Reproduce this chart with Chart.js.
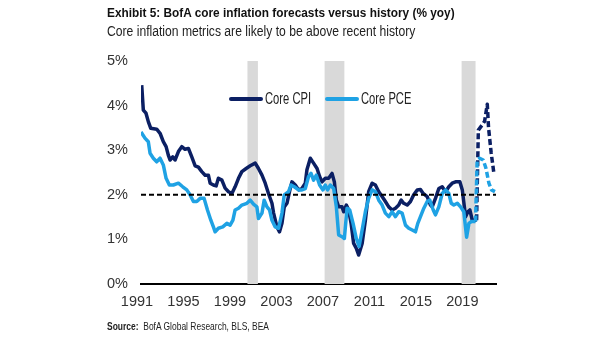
<!DOCTYPE html>
<html>
<head>
<meta charset="utf-8">
<script src="https://cdn.jsdelivr.net/npm/chart.js@4.4.1/dist/chart.umd.min.js"></script>
<style>
  body { margin: 0; background: #fff; }
  #wrap { position: relative; width: 605px; height: 341px; overflow: hidden;
          font-family: "Liberation Sans", Arial, sans-serif; color: #222; }
  #chart { position: absolute; left: 0; top: 0; }
  .txt { position: absolute; white-space: nowrap; transform-origin: 0 0; }
  #title { left: 107px; top: 5px; font-size: 13.5px; font-weight: bold; color: #111; transform: scaleX(0.877); }
  #subtitle { left: 107px; top: 23px; font-size: 14px; color: #222; transform: scaleX(0.867); }
  #source { left: 107px; top: 320px; font-size: 11px; color: #222; transform: scaleX(0.77); }
  .swatch { position: absolute; width: 34px; height: 4px; border-radius: 2px; }
  .ltxt { font-size: 16px; color: #222; transform: scaleX(0.70); }
</style>
</head>
<body>
<div id="wrap">
  <canvas id="chart" width="605" height="341"></canvas>
  <div class="txt" id="title">Exhibit 5: BofA core inflation forecasts versus history (% yoy)</div>
  <div class="txt" id="subtitle">Core inflation metrics are likely to be above recent history</div>
  <div id="legend"></div>
  <div class="txt" id="source"><b>Source:</b>&nbsp; BofA Global Research, BLS, BEA</div>
</div>
<script>
// Core CPI, % yoy (history)
const cpiYears = [1991.06, 1991.20, 1991.43, 1991.63, 1991.84, 1992.35, 1992.64, 1992.92, 1993.16, 1993.35,
  1993.50, 1993.73, 1993.93, 1994.22, 1994.51, 1994.79, 1995.08, 1995.37, 1995.66, 1995.94,
  1996.23, 1996.52, 1996.80, 1996.95, 1997.23, 1997.47, 1997.66, 1997.96, 1998.24, 1998.53,
  1998.82, 1999.10, 1999.39, 1999.68, 2000.05, 2000.40, 2000.83, 2001.11, 2001.41, 2001.69,
  2001.97, 2002.27, 2002.41, 2002.70, 2002.92, 2003.13, 2003.33, 2003.56, 2003.78, 2003.99,
  2004.28, 2004.56, 2004.85, 2005.14, 2005.28, 2005.57, 2005.85, 2006.15, 2006.37, 2006.58,
  2006.86, 2007.15, 2007.44, 2007.64, 2007.81, 2008.01, 2008.30, 2008.44, 2008.67, 2008.87,
  2009.08, 2009.30, 2009.53, 2009.73, 2010.03, 2010.31, 2010.59, 2010.89, 2011.17, 2011.46,
  2011.75, 2012.03, 2012.32, 2012.61, 2012.90, 2013.18, 2013.39, 2013.61, 2013.91, 2014.19,
  2014.47, 2014.77, 2015.05, 2015.28, 2015.63, 2015.91, 2016.06, 2016.34, 2016.63, 2016.92,
  2017.21, 2017.49, 2017.78, 2018.07, 2018.44, 2018.65, 2018.93, 2019.13, 2019.30, 2019.51,
  2019.71, 2019.88];
const cpiValues = [4.46, 3.90, 3.83, 3.64, 3.49, 3.47, 3.38, 3.19, 3.08, 2.89,
  2.78, 2.85, 2.78, 2.97, 3.08, 3.02, 3.04, 2.85, 2.65, 2.62,
  2.52, 2.44, 2.44, 2.26, 2.22, 2.20, 2.37, 2.33, 2.15, 2.07,
  2.03, 2.18, 2.37, 2.52, 2.59, 2.65, 2.71, 2.59, 2.44, 2.26,
  2.03, 1.81, 1.59, 1.28, 1.17, 1.36, 1.73, 1.81, 2.07, 2.29,
  2.22, 2.11, 2.14, 2.26, 2.56, 2.82, 2.71, 2.59, 2.41, 2.29,
  2.37, 2.37, 2.48, 2.29, 1.88, 1.73, 1.73, 1.62, 1.77, 1.66,
  1.36, 0.91, 0.80, 0.65, 0.91, 1.43, 2.07, 2.26, 2.22, 2.07,
  1.96, 1.85, 1.73, 1.66, 1.70, 1.77, 1.88, 1.81, 1.77, 1.85,
  2.00, 2.11, 2.12, 2.03, 1.96, 1.77, 1.73, 1.92, 2.14, 2.18,
  2.07, 2.18, 2.26, 2.29, 2.29, 2.11, 1.51, 1.62, 1.66, 1.43,
  1.43, 1.43];

// Core CPI, BofA forecast
const cpiFcstYears = [2019.88, 2020.03, 2020.37, 2020.57, 2020.80, 2020.91, 2021.13, 2021.37];
const cpiFcstValues = [1.43, 3.45, 3.57, 3.65, 4.03, 3.50, 2.95, 2.48];

// Core PCE, % yoy (history)
const pceYears = [1991.00, 1991.34, 1991.63, 1991.78, 1992.06, 1992.35, 1992.64, 1992.92, 1993.16, 1993.44,
  1993.78, 1994.22, 1994.59, 1994.94, 1995.22, 1995.51, 1995.80, 1996.09, 1996.43, 1996.72,
  1997.01, 1997.23, 1997.38, 1997.66, 1998.04, 1998.39, 1998.67, 1998.91, 1999.10, 1999.39,
  1999.68, 2000.11, 2000.40, 2000.68, 2000.97, 2001.11, 2001.41, 2001.60, 2001.84, 2002.06,
  2002.27, 2002.55, 2002.84, 2003.13, 2003.33, 2003.70, 2003.91, 2004.19, 2004.56, 2004.85,
  2005.14, 2005.42, 2005.63, 2005.85, 2006.09, 2006.37, 2006.66, 2006.86, 2007.06, 2007.29,
  2007.58, 2007.81, 2008.01, 2008.30, 2008.50, 2008.73, 2008.96, 2009.25, 2009.53, 2009.77,
  2010.03, 2010.31, 2010.59, 2010.89, 2011.17, 2011.46, 2011.75, 2012.03, 2012.32, 2012.61,
  2012.90, 2013.18, 2013.47, 2013.76, 2014.04, 2014.34, 2014.62, 2014.82, 2015.05, 2015.34,
  2015.63, 2015.85, 2016.15, 2016.34, 2016.63, 2016.92, 2017.21, 2017.49, 2017.70, 2017.92,
  2018.22, 2018.50, 2018.78, 2019.02, 2019.22, 2019.42, 2019.65, 2019.79];
const pceValues = [3.41, 3.27, 3.19, 2.93, 2.82, 2.74, 2.82, 2.67, 2.37, 2.22,
  2.22, 2.26, 2.18, 2.11, 2.00, 1.85, 1.85, 1.92, 1.92, 1.66,
  1.43, 1.28, 1.17, 1.25, 1.28, 1.36, 1.32, 1.43, 1.66, 1.70,
  1.77, 1.81, 1.88, 1.79, 1.73, 1.47, 1.59, 1.88, 1.73, 1.66,
  1.43, 1.28, 1.25, 1.59, 2.00, 2.07, 2.22, 2.18, 2.11, 2.11,
  2.14, 2.41, 2.48, 2.33, 2.44, 2.22, 2.11, 2.22, 2.11, 2.22,
  2.14, 1.73, 1.10, 1.06, 1.02, 1.70, 1.66, 1.36, 1.02, 0.84,
  1.21, 1.62, 1.92, 2.11, 2.07, 1.88, 1.77, 1.59, 1.51, 1.62,
  1.51, 1.62, 1.59, 1.32, 1.25, 1.21, 1.17, 1.36, 1.51, 1.70,
  1.85, 1.88, 1.66, 1.55, 1.73, 2.03, 2.11, 2.03, 1.81, 1.77,
  1.81, 1.73, 1.62, 1.05, 1.36, 1.40, 1.40, 1.40];

// Core PCE, BofA forecast
const pceFcstYears = [2019.79, 2019.93, 2020.14, 2020.45, 2020.68, 2020.94, 2021.16, 2021.46];
const pceFcstValues = [1.40, 2.78, 2.82, 2.78, 2.60, 2.26, 2.11, 2.07];

// Fed 2% target and recession shading
const targetValue = 2;
const recessionStarts = [2000.16, 2006.80, 2018.59];
const recessionEnds = [2001.06, 2008.50, 2019.79];

// axes
const xTickYears = [1991, 1995, 1999, 2003, 2007, 2011, 2015, 2019];
const xMin = 1991, xMax = 2021.55;
const yTickValues = [0, 1, 2, 3, 4, 5];

const darkBlue = "#0b1f63";
const lightBlue = "#1fa2e4";

function pairs(xs, ys) {
  return xs.map((x, i) => ({ x: x, y: ys[i] }));
}

const recessionPlugin = {
  id: "recessions",
  beforeDatasetsDraw(chart) {
    const { ctx, chartArea, scales } = chart;
    ctx.save();
    ctx.fillStyle = "#d9d9d9";
    recessionStarts.forEach((s, i) => {
      const x0 = scales.x.getPixelForValue(s);
      const x1 = scales.x.getPixelForValue(recessionEnds[i]);
      ctx.fillRect(x0, chartArea.top, x1 - x0, chartArea.bottom - chartArea.top);
    });
    ctx.restore();
  }
};

const fontFamily = "'Liberation Sans', Arial, sans-serif";

new Chart(document.getElementById("chart"), {
  type: "line",
  data: {
    datasets: [
      {
        label: "2% target",
        data: [{ x: xMin, y: targetValue }, { x: xMax, y: targetValue }],
        borderColor: "#000",
        borderWidth: 2,
        borderDash: [5, 3],
        order: 0
      },
      {
        label: "Core PCE",
        data: pairs(pceYears, pceValues),
        borderColor: lightBlue,
        borderWidth: 3.5,
        order: 1
      },
      {
        label: "Core PCE forecast",
        data: pairs(pceFcstYears, pceFcstValues),
        borderColor: lightBlue,
        borderWidth: 3.5,
        borderDash: [6, 3],
        order: 1
      },
      {
        label: "Core CPI",
        data: pairs(cpiYears, cpiValues),
        borderColor: darkBlue,
        borderWidth: 3.5,
        order: 2
      },
      {
        label: "Core CPI forecast",
        data: pairs(cpiFcstYears, cpiFcstValues),
        borderColor: darkBlue,
        borderWidth: 3.5,
        borderDash: [6, 3],
        order: 2
      }
    ]
  },
  options: {
    responsive: false,
    animation: false,
    parsing: false,
    elements: {
      point: { radius: 0 },
      line: { tension: 0, borderJoinStyle: "round", fill: false }
    },
    layout: { padding: { left: 0, top: 61, right: 109, bottom: 0 } },
    plugins: {
      legend: { display: false },
      tooltip: { enabled: false }
    },
    scales: {
      x: {
        type: "linear",
        min: xMin,
        max: xMax,
        afterBuildTicks(scale) {
          scale.ticks = xTickYears.map(v => ({ value: v }));
        },
        afterFit(scale) { scale.height = 57; },
        grid: { display: false, drawTicks: false },
        border: { display: true, color: "#000", width: 2 },
        ticks: {
          padding: 9,
          labelOffset: -4,
          maxRotation: 0,
          autoSkip: false,
          color: "#333",
          font: { family: fontFamily, size: 14.5 },
          callback: v => String(v)
        }
      },
      y: {
        min: 0,
        max: 5,
        afterBuildTicks(scale) {
          scale.ticks = yTickValues.map(v => ({ value: v }));
        },
        afterFit(scale) { scale.width = 141; },
        grid: { display: false, drawTicks: false },
        border: { display: false },
        ticks: {
          padding: 13,
          color: "#333",
          font: { family: fontFamily, size: 14.5 },
          callback: v => v + "%"
        }
      }
    }
  },
  plugins: [recessionPlugin]
});

// legend (sits inside the plot, centred over it)
const legendItems = [
  { label: "Core CPI", color: darkBlue, left: 229 },
  { label: "Core PCE", color: lightBlue, left: 325 }
];
const legendEl = document.getElementById("legend");
legendItems.forEach(item => {
  const sw = document.createElement("div");
  sw.className = "swatch";
  sw.style.background = item.color;
  sw.style.left = item.left + "px";
  sw.style.top = "97px";
  const txt = document.createElement("div");
  txt.className = "txt ltxt";
  txt.textContent = item.label;
  txt.style.left = (item.left + 36) + "px";
  txt.style.top = "90px";
  legendEl.appendChild(sw);
  legendEl.appendChild(txt);
});
</script>
</body>
</html>
